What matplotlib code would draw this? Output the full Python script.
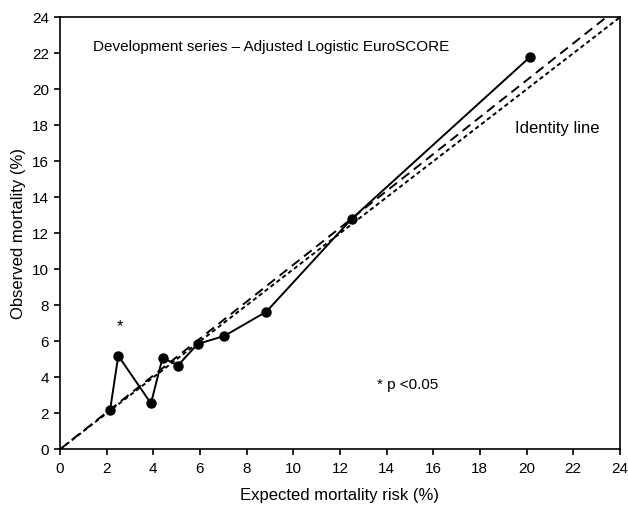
import numpy as np
import matplotlib.pyplot as plt

plt.rcParams['font.family'] = ['Liberation Sans', 'DejaVu Sans']

# observed vs expected mortality
expected = [2.15, 2.5, 3.9, 4.4, 5.05, 5.9, 7.05, 8.85, 12.5, 20.15]
observed = [2.2, 5.2, 2.55, 5.1, 4.65, 5.85, 6.3, 7.65, 12.8, 21.8]

# fitted calibration line (long dashes)
fit_slope = 1.025
fit_intercept = 0.0

ticks = list(range(0, 25, 2))

fig = plt.figure(figsize=(6.28, 5.07), dpi=100)
ax = fig.add_axes([0.0955, 0.1138, 0.8915, 0.852])

xx = np.array([0, 24])
ax.plot(xx, xx, color='black', lw=1.4, dashes=(2.2, 1.6))
ax.plot(xx, fit_intercept + fit_slope * xx, color='black', lw=1.4, dashes=(5, 3))
ax.plot(expected, observed, color='black', lw=1.4, marker='o', ms=6.5, zorder=3)

ax.set_xlim(0, 24)
ax.set_ylim(0, 24)
ax.set_xticks(ticks)
ax.set_yticks(ticks)
ax.tick_params(direction='out', length=4.5, width=1.2, labelsize=11)
ax.tick_params(axis='x', pad=5)
ax.tick_params(axis='y', pad=3.5)
for s in ax.spines.values():
    s.set_linewidth(1.2)

ax.set_xlabel("Expected mortality risk (%)", fontsize=12, labelpad=8)
ax.set_ylabel("Observed mortality (%)", fontsize=12, labelpad=4)

ax.text(1.4, 22.35, "Development series \u2013 Adjusted Logistic EuroSCORE", fontsize=11, va='center')
ax.text(19.5, 17.85, "Identity line", fontsize=12, va='center')
ax.text(13.6, 3.55, "* p <0.05", fontsize=11, va='center')
ax.text(2.57, 6.8, "*", fontsize=12, ha='center', va='center')

fig.savefig("out.png", dpi=100)
